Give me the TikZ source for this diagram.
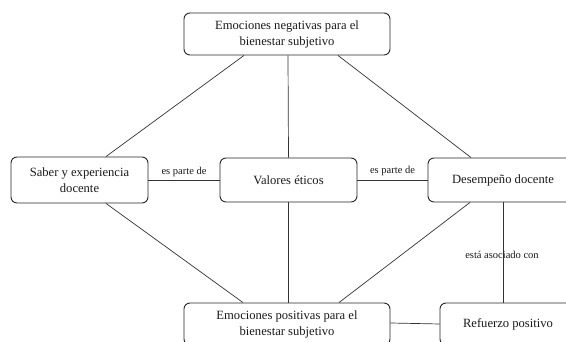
\documentclass[tikz,border=0pt]{standalone}
\usepackage{fontspec}
\setmainfont{Liberation Serif}
\begin{document}
\begin{tikzpicture}[x=1pt,y=1pt,
  box/.style={draw=black!85, line width=0.9pt, rounded corners=6pt, align=center,
    inner sep=0pt, font=\fontsize{12.6}{16}\selectfont, text=black!90},
  conn/.style={draw=black!80, line width=0.7pt},
  lbl/.style={font=\fontsize{10.5}{12}\selectfont, text=black!90, inner sep=1pt}]
\useasboundingbox (0,0) rectangle (566,342);
\clip (0,0) rectangle (566,342);
\node[box, minimum width=206pt, minimum height=42pt] (top) at (287,308) {Emociones negativas para el\\bienestar subjetivo};
\node[box, minimum width=137pt, minimum height=46pt] (saber) at (79.5,162) {Saber y experiencia\\docente};
\node[box, minimum width=137pt, minimum height=44pt] (val) at (288.5,162) {Valores éticos};
\node[box, minimum width=150pt, minimum height=44pt] (des) at (503,162) {Desempeño docente};
\node[box, minimum width=206pt, minimum height=42pt] (bot) at (287,18) {Emociones positivas para el\\bienestar subjetivo};
\node[box, minimum width=136pt, minimum height=42pt] (ref) at (508,18) {Refuerzo positivo};
\draw[conn] ([xshift=-43pt]top.south) -- ([xshift=26.5pt]saber.north);
\draw[conn] ([xshift=1pt]top.south) -- (val.north);
\draw[conn] ([xshift=51pt]top.south) -- ([xshift=-32pt]des.north);
\draw[conn] ([xshift=26.5pt]saber.south) -- ([xshift=-44pt]bot.north);
\draw[conn] (val.south) -- ([xshift=1.5pt]bot.north);
\draw[conn] ([xshift=-33pt]des.south) -- ([xshift=52pt]bot.north);
\draw[conn] (saber.east) -- node[lbl, above=2pt] {es parte de} (val.west);
\draw[conn] (val.east) -- node[lbl, above=3pt] {es parte de} (des.west);
\draw[conn] (des.south) -- (des.south |- ref.north);
\node[lbl] (asoc) at (502,87) {está asociado con};
\draw[conn] ([yshift=1pt]bot.east) -- (bot.east -| ref.west);
\end{tikzpicture}
\end{document}
